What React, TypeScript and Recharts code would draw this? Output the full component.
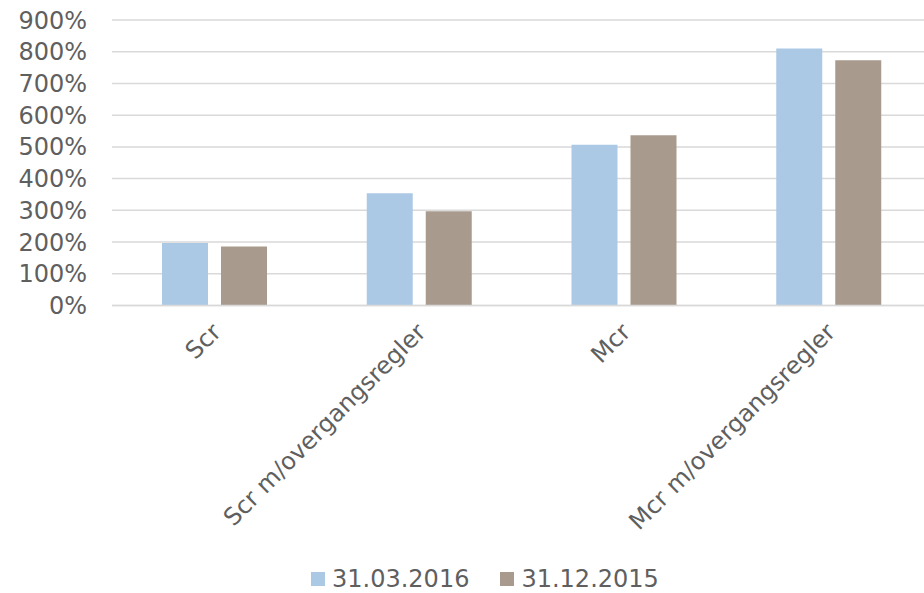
import React from "react";
import {
  BarChart,
  Bar,
  XAxis,
  YAxis,
  CartesianGrid,
  Legend,
} from "recharts";

const categories = ["Scr", "Scr m/overgangsregler", "Mcr", "Mcr m/overgangsregler"];
const mar2016 = [197, 354, 507, 810];
const dec2015 = [186, 297, 537, 773];
const yTicks = [0, 100, 200, 300, 400, 500, 600, 700, 800, 900];

const series = [
  { key: "mar2016", name: "31.03.2016", color: "#abc9e5" },
  { key: "dec2015", name: "31.12.2015", color: "#a89b8e" },
];

const data = categories.map((name, i) => ({
  name,
  mar2016: mar2016[i],
  dec2015: dec2015[i],
}));

const textColor = "#5f5f5f";
const font = "'DejaVu Sans', Verdana, sans-serif";

// rotated category label, end of text at the category centre
function CategoryTick({ x, y, payload }: any) {
  const tx = x - 4;
  const ty = y + 2;
  return (
    <text
      x={tx}
      y={ty}
      dy="0.71em"
      textAnchor="end"
      transform={`rotate(-45, ${tx}, ${ty})`}
      fill={textColor}
      fontSize={24}
      fontFamily={font}
    >
      {payload.value}
    </text>
  );
}

function LegendContent() {
  return (
    <div style={{ display: "flex", alignItems: "center", height: 36, paddingLeft: 311, paddingTop: 8, boxSizing: "border-box", fontFamily: font, fontSize: 24, color: textColor }}>
      {series.map((s, i) => (
        <div key={s.key} style={{ display: "flex", alignItems: "center", marginRight: i === 0 ? 31 : 0 }}>
          <span style={{ display: "inline-block", width: 14, height: 14, background: s.color, marginRight: 7 }} />
          <span style={{ lineHeight: "28px" }}>{s.name}</span>
        </div>
      ))}
    </div>
  );
}

export default function App() {
  return (
    <div style={{ position: "absolute", left: 0, top: 0, width: 924, height: 593, overflow: "hidden", background: "#fff" }}>
      <BarChart
        width={931}
        height={593}
        data={data}
        barSize={46}
        barGap={13}
        margin={{ top: 20, right: 0, left: 0, bottom: 0 }}
      >
        <CartesianGrid vertical={false} stroke="#d9d9d9" strokeWidth={1.5} />
        <XAxis
          dataKey="name"
          interval={0}
          height={251.5}
          tickSize={0}
          tickMargin={14}
          axisLine={{ stroke: "#d9d9d9", strokeWidth: 1.5 }}
          tickLine={false}
          tick={<CategoryTick />}
        />
        <YAxis
          domain={[0, 900]}
          ticks={yTicks}
          interval={0}
          width={112}
          axisLine={false}
          tickLine={false}
          tickSize={0}
          tickMargin={25}
          tick={{ fill: textColor, fontSize: 24, fontFamily: font }}
          tickFormatter={(v) => `${v}%`}
        />
        <Legend verticalAlign="bottom" height={36} content={<LegendContent />} />
        {series.map((s) => (
          <Bar key={s.key} dataKey={s.key} name={s.name} fill={s.color} isAnimationActive={false} />
        ))}
      </BarChart>
    </div>
  );
}
